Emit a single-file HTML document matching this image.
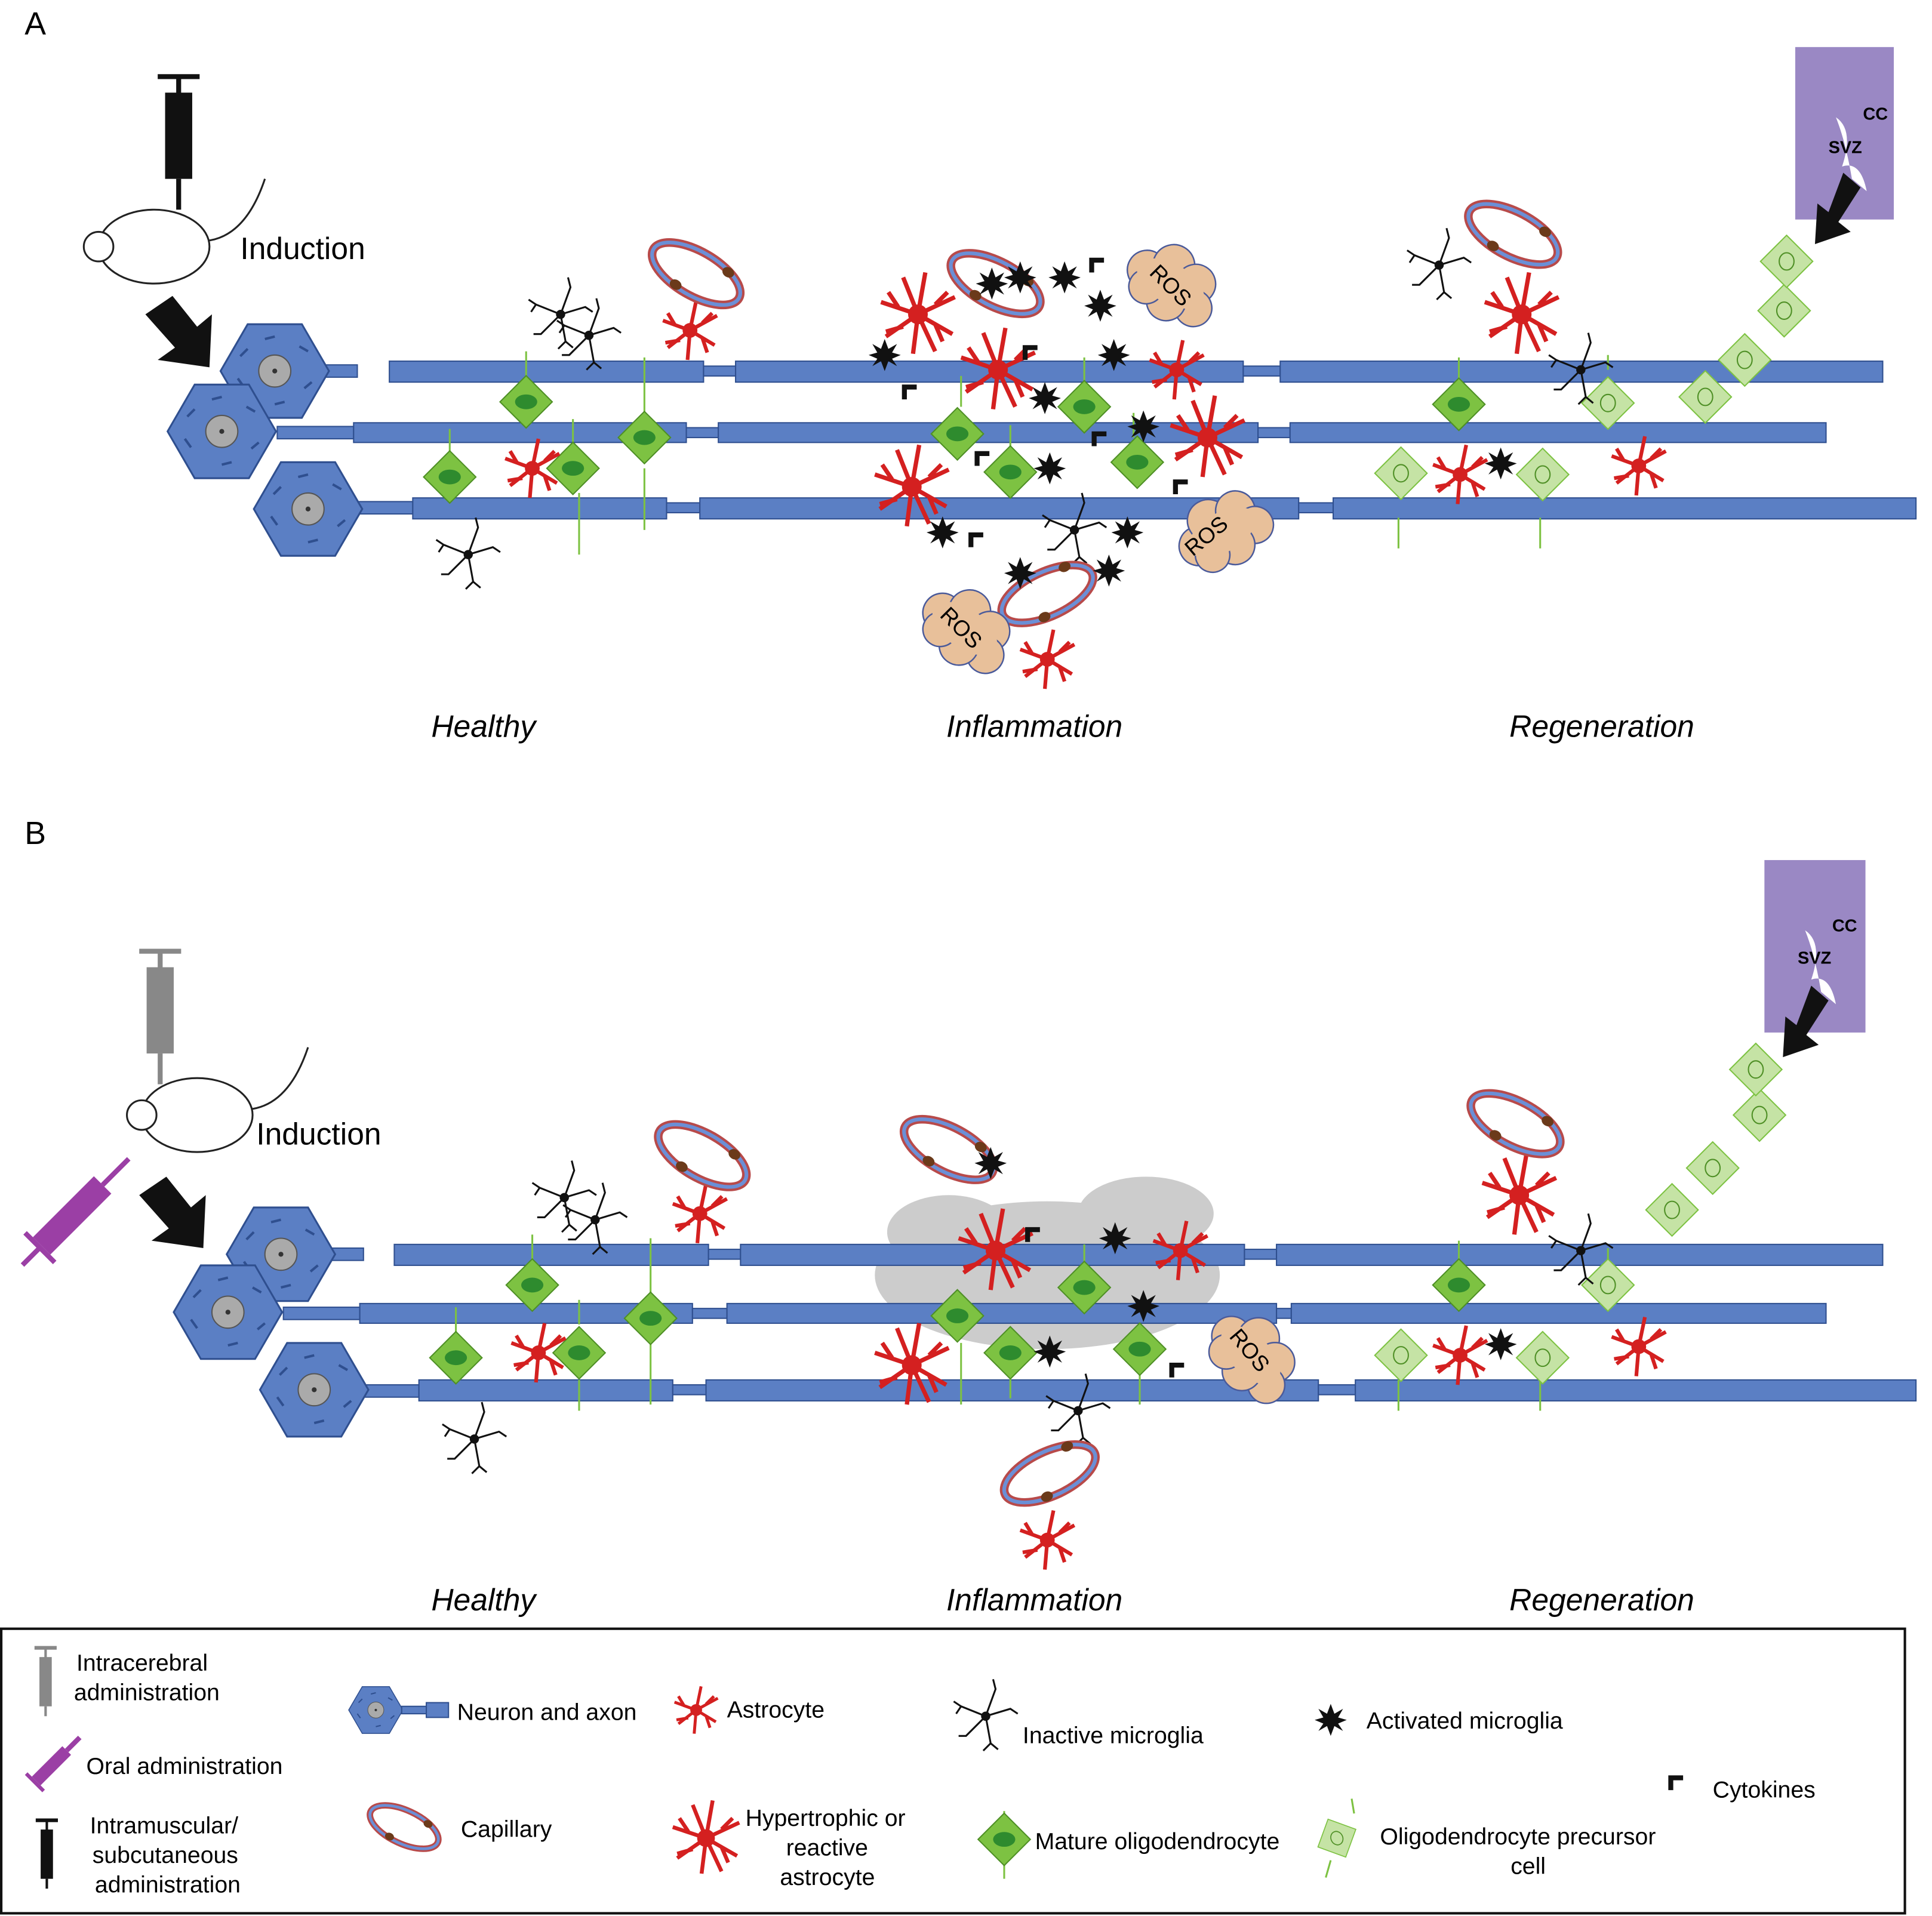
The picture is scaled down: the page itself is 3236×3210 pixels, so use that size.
<!DOCTYPE html>
<html><head><meta charset="utf-8"><style>
html,body{margin:0;padding:0;background:#fff;}
svg{display:block;}
text{font-family:"Liberation Sans",sans-serif;}
</style></head><body>
<svg width="3236" height="3210" viewBox="0 0 1568 1555" xmlns="http://www.w3.org/2000/svg">
<defs>
<g id="hex"><polygon points="-44,0 -22,-38 22,-38 44,0 22,38 -22,38" fill="#5b7fc4" stroke="#2f4f8f" stroke-width="1.5"/><circle r="13" fill="#aaa" stroke="#555"/><circle r="2" fill="#333"/><path d="M-28,-12 l6,-6 M-30,6 l5,7 M20,-20 l7,4 M24,14 l6,-5 M-8,-26 l8,-2 M0,27 l8,-2" stroke="#2f4f8f" stroke-width="2"/></g>
<g id="astro" stroke="#d42020" stroke-width="3" fill="none"><path d="M0,0 L-22,-8 M0,0 L-18,14 M0,0 L5,-24 M0,0 L22,-12 M0,0 L20,12 M0,0 L-2,24 M-12,-4 l-6,-10 M10,-6 l8,-8 M10,6 l4,12 M-8,8 l-12,2"/><circle r="6" fill="#d42020" stroke="none"/></g>
<g id="hastro" stroke="#d42020" stroke-width="3.5" fill="none"><path d="M0,0 L-30,-10 M0,0 L-26,18 M0,0 L6,-34 M0,0 L-12,-30 M0,0 L30,-14 M0,0 L28,16 M0,0 L-4,32 M0,0 L14,30 M-16,-6 l-8,-12 M14,-8 l10,-10 M14,8 l6,14 M-12,10 l-14,4"/><circle r="8" fill="#d42020" stroke="none"/></g>
<g id="mic" stroke="#111" stroke-width="1.5" fill="none"><path d="M0,0 L-20,-8 l-6,-4 M0,0 L8,-22 l-2,-8 M0,0 L20,-6 l6,4 M0,0 L4,22 l-6,6 M4,22 l6,5 M0,0 L-16,16 l-6,0 M-20,-8 l-4,6"/><circle r="3" fill="#111"/></g>
<g id="act"><polygon points="0,-13 3,-5 10,-9 6,-2 13,0 6,3 10,9 3,5 0,13 -3,5 -10,9 -6,3 -13,0 -6,-2 -10,-9 -3,-5" fill="#111"/></g>
<g id="olig"><rect x="-15" y="-15" width="30" height="30" transform="rotate(45)" fill="#7dc242" stroke="#4e8f25"/><ellipse rx="9" ry="6" fill="#2e8b2e"/></g>
<g id="opc"><rect x="-15" y="-15" width="30" height="30" transform="rotate(45)" fill="#c5e3a5" stroke="#7dc242"/><ellipse rx="6" ry="7" fill="none" stroke="#4e8f25"/></g>
<g id="cap"><ellipse rx="40" ry="18" fill="none" stroke="#b84a4a" stroke-width="7"/><ellipse rx="40" ry="18" fill="none" stroke="#6b8fd6" stroke-width="3"/><ellipse cx="-10" cy="16" rx="5" ry="4" fill="#6b3a1a"/><ellipse cx="22" cy="-14" rx="5" ry="4" fill="#6b3a1a"/></g>
<g id="ros"><g fill="#e8c09a" stroke="#4a5a9a" stroke-width="1.2"><circle cx="-22" cy="0" r="16"/><circle cx="-5" cy="-14" r="17"/><circle cx="18" cy="-10" r="16"/><circle cx="26" cy="8" r="15"/><circle cx="4" cy="14" r="16"/><circle cx="-16" cy="12" r="14"/></g><ellipse rx="30" ry="16" fill="#e8c09a"/></g>
<g id="cyt"><path d="M-6,-6 h12 v4 h-8 v8 h-4 z" fill="#111"/></g>
</defs>
<rect width="1568" height="1555" fill="#fff"/>

<!-- Panel A -->
<text x="20" y="28" font-size="26">A</text>
<g fill="#111"><rect x="134" y="75" width="22" height="70"/><rect x="128" y="60" width="34" height="4"/><rect x="143" y="62" width="4" height="15"/><rect x="143" y="145" width="4" height="25"/></g>
<g fill="#fff" stroke="#222" stroke-width="1.5"><ellipse cx="125" cy="200" rx="45" ry="30"/><circle cx="80" cy="200" r="12"/><path d="M170,195 q30,-5 45,-50" fill="none"/></g>
<text x="195" y="210" font-size="25">Induction</text>
<polygon points="118,255 140,240 160,265 172,255 170,298 128,292 142,282" fill="#111"/>

<g fill="#5b7fc4" stroke="#2f4f8f" stroke-width="1">
<rect x="260" y="296" width="30" height="10"/><rect x="316" y="293" width="255" height="17"/><rect x="571" y="297" width="26" height="8"/><rect x="597" y="293" width="412" height="17"/><rect x="1009" y="297" width="30" height="8"/><rect x="1039" y="293" width="489" height="17"/>
<rect x="225" y="346" width="62" height="10"/><rect x="287" y="343" width="270" height="16"/><rect x="557" y="347" width="26" height="8"/><rect x="583" y="343" width="438" height="16"/><rect x="1021" y="347" width="26" height="8"/><rect x="1047" y="343" width="435" height="16"/>
<rect x="290" y="407" width="45" height="10"/><rect x="335" y="404" width="206" height="17"/><rect x="541" y="408" width="27" height="8"/><rect x="568" y="404" width="486" height="17"/><rect x="1054" y="408" width="28" height="8"/><rect x="1082" y="404" width="473" height="17"/>
</g>
<use href="#hex" x="223" y="301"/><use href="#hex" x="180" y="350"/><use href="#hex" x="250" y="413"/>
<g stroke="#7dc242" stroke-width="1.5" fill="none"><path d="M427,310 v-25 M523,335 v-45 M365,370 v-22 M465,360 v-20 M470,400 v50 M523,380 v50 M780,330 v-25 M820,370 v-25 M880,310 v-20 M920,355 v-20 M1184,310 v-20 M1305,300 v-12 M1135,420 v25 M1250,420 v25"/></g>
<use href="#olig" x="427" y="326"/><use href="#olig" x="523" y="355"/><use href="#olig" x="365" y="387"/><use href="#olig" x="465" y="380"/>
<use href="#olig" x="777" y="352"/><use href="#olig" x="820" y="383"/><use href="#olig" x="880" y="330"/><use href="#olig" x="923" y="375"/><use href="#olig" x="1184" y="328"/>
<use href="#opc" x="1305" y="327"/><use href="#opc" x="1137" y="384"/><use href="#opc" x="1252" y="385"/>
<use href="#opc" x="1384" y="322"/><use href="#opc" x="1416" y="292"/><use href="#opc" x="1448" y="252"/><use href="#opc" x="1450" y="212"/>
<use href="#astro" x="432" y="380"/><use href="#astro" x="560" y="268"/><use href="#hastro" x="745" y="255"/><use href="#hastro" x="810" y="300"/><use href="#hastro" x="740" y="395"/><use href="#astro" x="955" y="300"/><use href="#hastro" x="980" y="355"/><use href="#hastro" x="1235" y="255"/><use href="#astro" x="1185" y="385"/><use href="#astro" x="1330" y="378"/><use href="#astro" x="850" y="535"/>
<use href="#mic" x="455" y="255"/><use href="#mic" x="478" y="272"/><use href="#mic" x="380" y="450"/><use href="#mic" x="872" y="430"/><use href="#mic" x="1168" y="215"/><use href="#mic" x="1283" y="300"/>
<use href="#cap" x="565" y="222" transform="rotate(30 565 222)"/><use href="#cap" x="808" y="230" transform="rotate(28 808 230)"/><use href="#cap" x="850" y="482" transform="rotate(-25 850 482)"/><use href="#cap" x="1228" y="190" transform="rotate(28 1228 190)"/>
<use href="#act" x="805" y="230"/><use href="#act" x="828" y="225"/><use href="#act" x="864" y="225"/><use href="#act" x="893" y="248"/><use href="#act" x="718" y="288"/><use href="#act" x="904" y="288"/><use href="#act" x="848" y="323"/><use href="#act" x="928" y="346"/><use href="#act" x="852" y="380"/><use href="#act" x="765" y="432"/><use href="#act" x="915" y="432"/><use href="#act" x="828" y="465"/><use href="#act" x="900" y="463"/><use href="#act" x="1218" y="376"/>
<use href="#cyt" x="836" y="286"/><use href="#cyt" x="890" y="215"/><use href="#cyt" x="738" y="318"/><use href="#cyt" x="797" y="372"/><use href="#cyt" x="892" y="356"/><use href="#cyt" x="958" y="395"/><use href="#cyt" x="792" y="438"/>
<use href="#ros" x="950" y="230" transform="rotate(30 950 230)"/><use href="#ros" x="992" y="432" transform="rotate(-30 992 432)"/><use href="#ros" x="783" y="510" transform="rotate(35 783 510)"/>
<text font-size="18" transform="translate(932,222) rotate(45)">ROS</text><text font-size="18" transform="translate(968,452) rotate(-40)">ROS</text><text font-size="18" transform="translate(762,500) rotate(45)">ROS</text>
<rect x="1457" y="38" width="80" height="140" fill="#9a88c4"/><path d="M1490,95 q15,10 5,40 q15,-5 20,20 l-12,-10 q-5,-30 -13,-50z" fill="#fff"/>
<text x="1512" y="97" font-size="14" font-weight="bold">CC</text><text x="1484" y="124" font-size="14" font-weight="bold">SVZ</text>
<polygon points="1496,140 1510,152 1492,180 1502,188 1473,198 1475,165 1484,172" fill="#111"/>
<text x="350" y="598" font-size="25" font-style="italic">Healthy</text><text x="768" y="598" font-size="25" font-style="italic">Inflammation</text><text x="1225" y="598" font-size="25" font-style="italic">Regeneration</text>

<!-- Panel B -->
<text x="20" y="685" font-size="26">B</text>
<g fill="#888"><rect x="119" y="785" width="22" height="70"/><rect x="113" y="770" width="34" height="4"/><rect x="128" y="772" width="4" height="15"/><rect x="128" y="855" width="4" height="25"/></g>
<g fill="#fff" stroke="#222" stroke-width="1.5"><ellipse cx="160" cy="905" rx="45" ry="30"/><circle cx="115" cy="905" r="12"/><path d="M205,900 q30,-5 45,-50" fill="none"/></g>
<text x="208" y="929" font-size="25">Induction</text>
<g transform="rotate(45 55 990)" fill="#9b3fa5"><rect x="45" y="950" width="20" height="70"/><rect x="53" y="920" width="4" height="30"/><rect x="38" y="1020" width="34" height="4"/><rect x="53" y="1022" width="4" height="20"/></g>
<polygon points="113,970 135,955 155,980 167,970 165,1013 123,1007 137,997" fill="#111"/>
<g fill="#ccc"><ellipse cx="850" cy="1035" rx="140" ry="60"/><ellipse cx="770" cy="1000" rx="50" ry="30"/><ellipse cx="930" cy="985" rx="55" ry="30"/></g>
<g fill="#5b7fc4" stroke="#2f4f8f" stroke-width="1">
<rect x="265" y="1013" width="30" height="10"/><rect x="320" y="1010" width="255" height="17"/><rect x="575" y="1014" width="26" height="8"/><rect x="601" y="1010" width="409" height="17"/><rect x="1010" y="1014" width="26" height="8"/><rect x="1036" y="1010" width="492" height="17"/>
<rect x="230" y="1061" width="62" height="10"/><rect x="292" y="1058" width="270" height="16"/><rect x="562" y="1062" width="28" height="8"/><rect x="590" y="1058" width="446" height="16"/><rect x="1036" y="1062" width="12" height="8"/><rect x="1048" y="1058" width="434" height="16"/>
<rect x="295" y="1124" width="45" height="10"/><rect x="340" y="1120" width="206" height="17"/><rect x="546" y="1124" width="27" height="8"/><rect x="573" y="1120" width="497" height="17"/><rect x="1070" y="1124" width="30" height="8"/><rect x="1100" y="1120" width="455" height="17"/>
</g>
<use href="#hex" x="228" y="1018"/><use href="#hex" x="185" y="1065"/><use href="#hex" x="255" y="1128"/>
<g stroke="#7dc242" stroke-width="1.5" fill="none"><path d="M432,1027 v-25 M528,1050 v-45 M370,1083 v-22 M470,1075 v-20 M470,1120 v25 M528,1090 v50 M780,1090 v50 M820,1105 v30 M880,1025 v-15 M925,1115 v25 M1184,1027 v-20 M1305,1025 v-12 M1135,1120 v25 M1250,1120 v25"/></g>
<use href="#olig" x="432" y="1043"/><use href="#olig" x="528" y="1070"/><use href="#olig" x="370" y="1102"/><use href="#olig" x="470" y="1098"/>
<use href="#olig" x="777" y="1068"/><use href="#olig" x="820" y="1098"/><use href="#olig" x="880" y="1045"/><use href="#olig" x="925" y="1095"/><use href="#olig" x="1184" y="1043"/>
<use href="#opc" x="1305" y="1043"/><use href="#opc" x="1137" y="1100"/><use href="#opc" x="1252" y="1102"/>
<use href="#opc" x="1357" y="982"/><use href="#opc" x="1390" y="948"/><use href="#opc" x="1428" y="905"/><use href="#opc" x="1425" y="868"/>
<use href="#astro" x="437" y="1098"/><use href="#astro" x="568" y="985"/><use href="#hastro" x="808" y="1015"/><use href="#hastro" x="740" y="1108"/><use href="#astro" x="958" y="1015"/><use href="#hastro" x="1233" y="970"/><use href="#astro" x="1185" y="1100"/><use href="#astro" x="1330" y="1093"/><use href="#astro" x="850" y="1250"/>
<use href="#mic" x="458" y="972"/><use href="#mic" x="483" y="990"/><use href="#mic" x="385" y="1168"/><use href="#mic" x="875" y="1145"/><use href="#mic" x="1283" y="1015"/>
<use href="#cap" x="570" y="938" transform="rotate(30 570 938)"/><use href="#cap" x="770" y="933" transform="rotate(28 770 933)"/><use href="#cap" x="852" y="1196" transform="rotate(-25 852 1196)"/><use href="#cap" x="1230" y="912" transform="rotate(28 1230 912)"/>
<use href="#act" x="804" y="944"/><use href="#act" x="905" y="1005"/><use href="#act" x="928" y="1060"/><use href="#act" x="852" y="1097"/><use href="#act" x="1218" y="1091"/>
<use href="#cyt" x="838" y="1002"/><use href="#cyt" x="955" y="1112"/>
<use href="#ros" x="1015" y="1100" transform="rotate(45 1015 1100)"/><text font-size="18" transform="translate(997,1085) rotate(50)">ROS</text>
<rect x="1432" y="698" width="82" height="140" fill="#9a88c4"/><path d="M1465,755 q15,10 5,40 q15,-5 20,20 l-12,-10 q-5,-30 -13,-50z" fill="#fff"/>
<text x="1487" y="756" font-size="14" font-weight="bold">CC</text><text x="1459" y="782" font-size="14" font-weight="bold">SVZ</text>
<polygon points="1470,800 1484,812 1466,840 1476,848 1447,858 1449,825 1458,832" fill="#111"/>
<text x="350" y="1307" font-size="25" font-style="italic">Healthy</text><text x="768" y="1307" font-size="25" font-style="italic">Inflammation</text><text x="1225" y="1307" font-size="25" font-style="italic">Regeneration</text>

<!-- Legend -->
<rect x="1" y="1322" width="1545" height="231" fill="none" stroke="#111" stroke-width="2"/>
<g fill="#888"><rect x="32" y="1345" width="10" height="40"/><rect x="28" y="1336" width="18" height="3"/><rect x="36" y="1338" width="2" height="8"/><rect x="36" y="1385" width="2" height="8"/></g>
<text x="62" y="1356" font-size="19">Intracerebral</text><text x="60" y="1380" font-size="19">administration</text>
<g transform="rotate(45 40 1435)" fill="#9b3fa5"><rect x="35" y="1415" width="10" height="35"/><rect x="38" y="1400" width="4" height="15"/><rect x="30" y="1450" width="20" height="3"/></g>
<text x="70" y="1440" font-size="19">Oral administration</text>
<g fill="#111"><rect x="33" y="1485" width="10" height="40"/><rect x="29" y="1476" width="18" height="3"/><rect x="37" y="1478" width="2" height="8"/><rect x="37" y="1525" width="2" height="8"/></g>
<text x="73" y="1488" font-size="19">Intramuscular/</text><text x="75" y="1512" font-size="19">subcutaneous</text><text x="77" y="1536" font-size="19">administration</text>
<g transform="translate(305,1388) scale(0.5)"><use href="#hex"/></g><rect x="326" y="1385" width="20" height="6" fill="#5b7fc4" stroke="#2f4f8f"/><rect x="346" y="1382" width="18" height="12" fill="#5b7fc4" stroke="#2f4f8f"/>
<text x="371" y="1396" font-size="19">Neuron and axon</text>
<g transform="translate(328,1483) rotate(25) scale(0.75)"><use href="#cap"/></g>
<text x="374" y="1491" font-size="19">Capillary</text>
<g transform="translate(565,1388) scale(0.8)"><use href="#astro"/></g><text x="590" y="1394" font-size="19">Astrocyte</text>
<g transform="translate(573,1492) scale(0.9)"><use href="#hastro"/></g>
<text x="605" y="1482" font-size="19">Hypertrophic or</text><text x="638" y="1506" font-size="19">reactive</text><text x="633" y="1530" font-size="19">astrocyte</text>
<use href="#mic" x="800" y="1393"/><text x="830" y="1415" font-size="19">Inactive microglia</text>
<use href="#act" x="1080" y="1396"/><text x="1109" y="1403" font-size="19">Activated microglia</text>
<path d="M815,1470 v20 M815,1510 v15" stroke="#7dc242" stroke-width="1.5"/><use href="#olig" x="815" y="1493"/><text x="840" y="1501" font-size="19">Mature oligodendrocyte</text>
<path d="M1097,1460 l2,12 M1080,1510 l-4,14" stroke="#7dc242" stroke-width="1.5"/><g transform="translate(1085,1492) rotate(-25) scale(0.8)"><use href="#opc"/></g>
<text x="1120" y="1497" font-size="19">Oligodendrocyte precursor</text><text x="1226" y="1521" font-size="19">cell</text>
<use href="#cyt" x="1360" y="1447"/><text x="1390" y="1459" font-size="19">Cytokines</text>
</svg>
</body></html>
